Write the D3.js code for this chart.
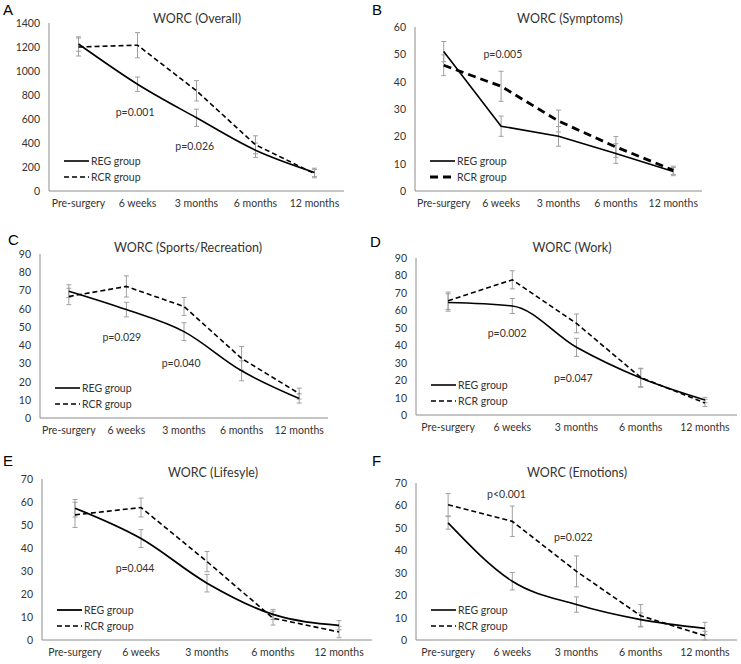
<!DOCTYPE html>
<html>
<head>
<meta charset="utf-8">
<script src="https://cdn.jsdelivr.net/npm/d3@7"></script>
<style>
body { margin: 0; background: #fff; }
svg { display: block; }
</style>
</head>
<body>
<svg id="chart"></svg>
<script>
const categories = ["Pre-surgery", "6 weeks", "3 months", "6 months", "12 months"];

// values (mean, +/- error)
const overallReg = [1225, 890, 610, 340, 155];
const overallRcr = [1200, 1215, 835, 385, 145];
const overallRegErr = [60, 60, 72, 60, 35];
const overallRcrErr = [75, 105, 85, 75, 35];

const symptomsReg = [51, 23.7, 20, 13.7, 7.1];
const symptomsRcr = [46, 38.3, 25.6, 16.1, 7.6];
const symptomsRegErr = [3.7, 3.7, 3.6, 3.6, 1.5];
const symptomsRcrErr = [3.8, 5.5, 4, 3.8, 1.5];

const sportsReg = [69.6, 59.5, 47.4, 25.9, 10.7];
const sportsRcr = [66.7, 72.2, 61.2, 32.7, 13.4];
const sportsRegErr = [3.5, 4, 4.9, 5.5, 2.5];
const sportsRcrErr = [4.5, 5.8, 4.9, 6.5, 3];

const workReg = [64.5, 62.5, 38.8, 21.2, 8.6];
const workRcr = [65.5, 77.5, 52.5, 21.5, 6.9];
const workRegErr = [5, 4.3, 5.2, 5.3, 1.5];
const workRcrErr = [5, 5.2, 5.4, 5.3, 2];

const lifestyleReg = [57.3, 44.1, 24.7, 11.1, 6.4];
const lifestyleRcr = [54.4, 57.6, 34.1, 9.5, 3.5];
const lifestyleRegErr = [3.8, 3.9, 3.8, 2.2, 2];
const lifestyleRcrErr = [5.5, 4.1, 4.4, 3, 2.5];

const emotionsReg = [52.2, 26.2, 15.8, 9.1, 5.2];
const emotionsRcr = [60.3, 52.9, 30.6, 10.8, 1.9];
const emotionsRegErr = [2.8, 3.9, 3.4, 3, 2.7];
const emotionsRcrErr = [5, 6.8, 6.9, 5, 2];

// p-value labels: category position (fractional index) and y value
const overallP = [{t: "p=0.001", at: 0.96, v: 660}, {t: "p=0.026", at: 1.97, v: 375}];
const symptomsP = [{t: "p=0.005", at: 1.03, v: 50}];
const sportsP = [{t: "p=0.029", at: 0.92, v: 44.5}, {t: "p=0.040", at: 1.95, v: 30.2}];
const workP = [{t: "p=0.002", at: 0.92, v: 47}, {t: "p=0.047", at: 1.95, v: 21.2}];
const lifestyleP = [{t: "p=0.044", at: 0.91, v: 31.3}];
const emotionsP = [{t: "p<0.001", at: 0.91, v: 65.1}, {t: "p=0.022", at: 1.95, v: 45.9}];

const panels = [
  {letter: "A", title: "WORC (Overall)", max: 1400, step: 200, reg: overallReg, rcr: overallRcr,
   regErr: overallRegErr, rcrErr: overallRcrErr, p: overallP,
   x0: 49, x1: 344, top: 23, base: 191, lx: 3, ly: 15, tx: 197, ty: 23,
   regW: 1.6, rcrW: 1.6, dash: "5,3", smooth: true},
  {letter: "B", title: "WORC (Symptoms)", max: 60, step: 10, reg: symptomsReg, rcr: symptomsRcr,
   regErr: symptomsRegErr, rcrErr: symptomsRcrErr, p: symptomsP,
   x0: 415, x1: 702, top: 27, base: 191, lx: 372, ly: 15, tx: 570, ty: 23,
   regW: 1.6, rcrW: 2.8, dash: "8,5", smooth: false},
  {letter: "C", title: "WORC (Sports/Recreation)", max: 90, step: 10, reg: sportsReg, rcr: sportsRcr,
   regErr: sportsRegErr, rcrErr: sportsRcrErr, p: sportsP,
   x0: 40, x1: 328, top: 254, base: 418, lx: 8, ly: 245, tx: 188, ty: 252,
   regW: 1.6, rcrW: 1.6, dash: "5,3", smooth: true},
  {letter: "D", title: "WORC (Work)", max: 90, step: 10, reg: workReg, rcr: workRcr,
   regErr: workRegErr, rcrErr: workRcrErr, p: workP,
   x0: 416, x1: 737, top: 258, base: 415, lx: 370, ly: 247, tx: 572, ty: 252,
   regW: 1.6, rcrW: 1.6, dash: "5,3", smooth: true},
  {letter: "E", title: "WORC (Lifesyle)", max: 70, step: 10, reg: lifestyleReg, rcr: lifestyleRcr,
   regErr: lifestyleRegErr, rcrErr: lifestyleRcrErr, p: lifestyleP,
   x0: 42, x1: 372, top: 479, base: 640, lx: 3, ly: 466, tx: 213, ty: 477,
   regW: 1.8, rcrW: 1.6, dash: "5,3", smooth: true},
  {letter: "F", title: "WORC (Emotions)", max: 70, step: 10, reg: emotionsReg, rcr: emotionsRcr,
   regErr: emotionsRegErr, rcrErr: emotionsRcrErr, p: emotionsP,
   x0: 416, x1: 737, top: 483, base: 640, lx: 372, ly: 466, tx: 577, ty: 477,
   regW: 1.6, rcrW: 1.6, dash: "5,3", smooth: true}
];

const font = "Lato, 'Open Sans', sans-serif";
const textColor = "#333333";
const axisColor = "#8c8c8c";
const errColor = "#a0a0a0";
const fs = "10.5px";

const svg = d3.select("#chart")
  .attr("width", 741)
  .attr("height", 664);

panels.forEach(p => {
  const g = svg.append("g");
  const x = d3.scalePoint()
    .domain(categories)
    .range([p.x0, p.x1])
    .padding(0.5);
  const step = x.step();
  const y = d3.scaleLinear()
    .domain([0, p.max])
    .range([p.base, p.top]);
  const xAt = i => x(categories[0]) + i * step;

  // panel letter
  g.append("text")
    .attr("x", p.lx)
    .attr("y", p.ly)
    .style("font-family", "'Liberation Sans', Arial, sans-serif")
    .style("font-size", "15px")
    .style("fill", "#000")
    .text(p.letter);

  // title
  g.append("text")
    .attr("x", p.tx)
    .attr("y", p.ty)
    .attr("text-anchor", "middle")
    .style("font-family", font)
    .style("font-size", "12.5px")
    .style("fill", textColor)
    .text(p.title);

  // axes lines
  g.append("line")
    .attr("x1", p.x0).attr("x2", p.x0)
    .attr("y1", y(p.max)).attr("y2", y(0))
    .attr("stroke", axisColor).attr("stroke-width", 1);
  g.append("line")
    .attr("x1", p.x0).attr("x2", p.x1)
    .attr("y1", y(0)).attr("y2", y(0))
    .attr("stroke", axisColor).attr("stroke-width", 1);

  // y tick labels
  g.selectAll(".ytick")
    .data(d3.range(0, p.max + 1, p.step))
    .enter()
    .append("text")
    .attr("x", p.x0 - 9)
    .attr("y", d => y(d))
    .attr("text-anchor", "end")
    .attr("dominant-baseline", "central")
    .style("font-family", font)
    .style("font-size", fs)
    .style("fill", textColor)
    .text(d => d);

  // x category labels
  g.selectAll(".xtick")
    .data(categories)
    .enter()
    .append("text")
    .attr("x", d => x(d))
    .attr("y", y(0) + 16)
    .attr("text-anchor", "middle")
    .style("font-family", font)
    .style("font-size", fs)
    .style("fill", textColor)
    .text(d => d);

  // error bars
  const series = [
    {vals: p.reg, err: p.regErr},
    {vals: p.rcr, err: p.rcrErr}
  ];
  series.forEach(s => {
    s.vals.forEach((v, i) => {
      const cx = x(categories[i]);
      const hi = y(v + s.err[i]);
      const lo = y(Math.max(0, v - s.err[i]));
      g.append("line")
        .attr("x1", cx).attr("x2", cx)
        .attr("y1", hi).attr("y2", lo)
        .attr("stroke", errColor).attr("stroke-width", 1);
      [hi, lo].forEach(yy => {
        g.append("line")
          .attr("x1", cx - 2.5).attr("x2", cx + 2.5)
          .attr("y1", yy).attr("y2", yy)
          .attr("stroke", errColor).attr("stroke-width", 1);
      });
    });
  });

  // lines
  const regLine = d3.line()
    .x((d, i) => x(categories[i]))
    .y(d => y(d))
    .curve(p.smooth ? d3.curveMonotoneX : d3.curveLinear);
  const rcrLine = d3.line()
    .x((d, i) => x(categories[i]))
    .y(d => y(d));

  g.append("path")
    .attr("d", rcrLine(p.rcr))
    .attr("fill", "none")
    .attr("stroke", "#000")
    .attr("stroke-width", p.rcrW)
    .attr("stroke-dasharray", p.dash);
  g.append("path")
    .attr("d", regLine(p.reg))
    .attr("fill", "none")
    .attr("stroke", "#000")
    .attr("stroke-width", p.regW);

  // p-values
  g.selectAll(".pval")
    .data(p.p)
    .enter()
    .append("text")
    .attr("x", d => xAt(d.at))
    .attr("y", d => y(d.v))
    .attr("text-anchor", "middle")
    .attr("dominant-baseline", "central")
    .style("font-family", font)
    .style("font-size", fs)
    .style("fill", textColor)
    .text(d => d.t);

  // legend
  const legend = [
    {label: "REG group", dy: 30, w: p.regW, dash: null},
    {label: "RCR group", dy: 14, w: p.rcrW, dash: p.dash}
  ];
  legend.forEach(l => {
    const ly = p.base - l.dy;
    g.append("line")
      .attr("x1", p.x0 + 15).attr("x2", p.x0 + 40)
      .attr("y1", ly).attr("y2", ly)
      .attr("stroke", "#000")
      .attr("stroke-width", l.w)
      .attr("stroke-dasharray", l.dash);
    g.append("text")
      .attr("x", p.x0 + 42)
      .attr("y", ly)
      .attr("dominant-baseline", "central")
      .style("font-family", font)
      .style("font-size", fs)
      .style("fill", textColor)
      .text(l.label);
  });
});
</script>
</body>
</html>
